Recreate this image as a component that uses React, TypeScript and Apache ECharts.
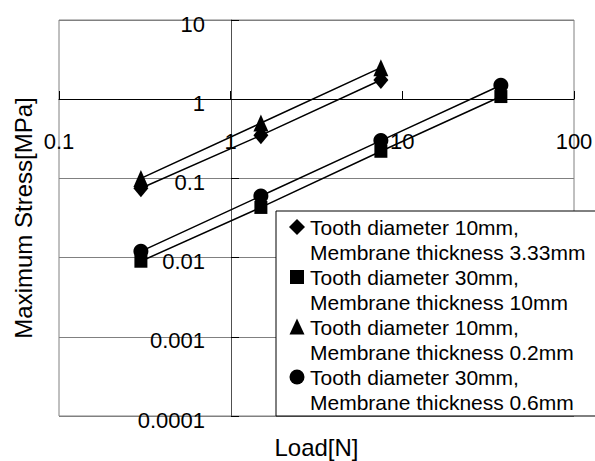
import React, { useEffect, useRef } from 'react';
import * as echarts from 'echarts';

// ---- data ----
const loadsD10 = [0.3, 1.5, 7.5];
const loadsD30 = [0.3, 1.5, 7.5, 37.5];
const stressD10T333 = [0.075, 0.35, 1.75];
const stressD30T10 = [0.009, 0.043, 0.22, 1.08];
const stressD10T02 = [0.1, 0.5, 2.5];
const stressD30T06 = [0.012, 0.06, 0.3, 1.5];
const seriesNames = [
  'Tooth diameter 10mm,\nMembrane thickness 3.33mm',
  'Tooth diameter 30mm,\nMembrane thickness 10mm',
  'Tooth diameter 10mm,\nMembrane thickness 0.2mm',
  'Tooth diameter 30mm,\nMembrane thickness 0.6mm',
];
const xRange = [0.1, 100];
const yRange = [0.0001, 10];
const xTitle = 'Load[N]';
const yTitle = 'Maximum Stress[MPa]';

const FONT = "'Liberation Sans', Arial, sans-serif";

// legend icons: shape drawn in the upper part of a 16x50 box (aligned to first text line)
const legendIcons = [
  'path://M0,0M16,50M8,4.5L16,12.5L8,20.5L0,12.5Z',
  'path://M0,0M16,50M1,5.5L15,5.5L15,19.5L1,19.5Z',
  'path://M0,0M16,50M8,4L15.5,20L0.5,20Z',
  'path://M0,0M16,50M0.5,12.5A7.5,7.5 0 1 1 15.5,12.5A7.5,7.5 0 1 1 0.5,12.5Z',
];

const zip = (xs: number[], ys: number[]) => xs.map((x, i) => [x, ys[i]]);
const fmt = (v: number) => String(Number(Number(v).toPrecision(6)));

export default function App() {
  const ref = useRef<HTMLDivElement>(null);
  useEffect(() => {
    if (!ref.current) return;
    const chart = echarts.init(ref.current, null, { renderer: 'svg' });
    const lineStyle = { color: '#000', width: 1.5 };
    const itemStyle = { color: '#000', borderWidth: 0 };
    const mk = (name: string, data: number[][], symbol: string, size: any) => ({
      name,
      type: 'line',
      data,
      symbol,
      symbolSize: size,
      showAllSymbol: true,
      lineStyle,
      itemStyle,
      emphasis: { disabled: true },
      z: 3,
    });
    chart.setOption({
      animation: false,
      backgroundColor: '#fff',
      grid: {
        left: 59,
        top: 20,
        right: 21,
        bottom: 45,
        show: true,
        borderColor: '#808080',
        borderWidth: 1,
        outerBoundsMode: 'none',
      },
      xAxis: {
        type: 'log',
        logBase: 10,
        min: xRange[0],
        max: xRange[1],
        position: 'bottom',
        offset: -317,
        name: xTitle,
        nameLocation: 'middle',
        nameGap: 336,
        nameTextStyle: { fontSize: 24, color: '#000', fontFamily: FONT },
        axisLine: { show: true, lineStyle: { color: '#000', width: 1 } },
        axisTick: { show: true, inside: true, length: 8, lineStyle: { color: '#000' } },
        axisLabel: {
          show: true,
          margin: 31,
          fontSize: 22,
          color: '#000',
          fontFamily: FONT,
          formatter: fmt,
        },
        splitLine: { show: false },
        minorTick: { show: false },
      },
      yAxis: {
        type: 'log',
        logBase: 10,
        min: yRange[0],
        max: yRange[1],
        position: 'left',
        offset: -172,
        name: yTitle,
        nameLocation: 'middle',
        nameGap: 196,
        nameTextStyle: { fontSize: 24, color: '#000', fontFamily: FONT },
        axisLine: { show: true, lineStyle: { color: '#505050', width: 1 } },
        axisTick: { show: true, inside: true, length: 8, lineStyle: { color: '#000' } },
        axisLabel: {
          show: true,
          margin: 26,
          fontSize: 22,
          color: '#000',
          fontFamily: FONT,
          verticalAlign: 'top',
          padding: [-7, 0, 0, 0],
          formatter: fmt,
        },
        splitLine: { show: true, lineStyle: { color: '#808080', width: 1 } },
      },
      legend: {
        orient: 'vertical',
        left: 276,
        top: 211,
        padding: [3.5, 12, 1.5, 13],
        itemGap: 0,
        itemWidth: 16,
        itemHeight: 50,
        backgroundColor: '#fff',
        borderColor: '#000',
        borderWidth: 1,
        borderRadius: 0,
        selectedMode: false,
        textStyle: { fontSize: 21, lineHeight: 25, color: '#000', fontFamily: FONT },
        data: seriesNames.map((n, i) => ({ name: n, icon: legendIcons[i] })),
      },
      series: [
        mk(seriesNames[0], zip(loadsD10, stressD10T333), 'diamond', [15, 18]),
        mk(seriesNames[1], zip(loadsD30, stressD30T10), 'rect', 13),
        mk(seriesNames[2], zip(loadsD10, stressD10T02), 'triangle', [15, 17]),
        mk(seriesNames[3], zip(loadsD30, stressD30T06), 'circle', 15),
      ],
    });
    return () => chart.dispose();
  }, []);
  return (
    <div
      ref={ref}
      style={{ position: 'absolute', left: 0, top: 0, width: 595, height: 461 }}
    />
  );
}
